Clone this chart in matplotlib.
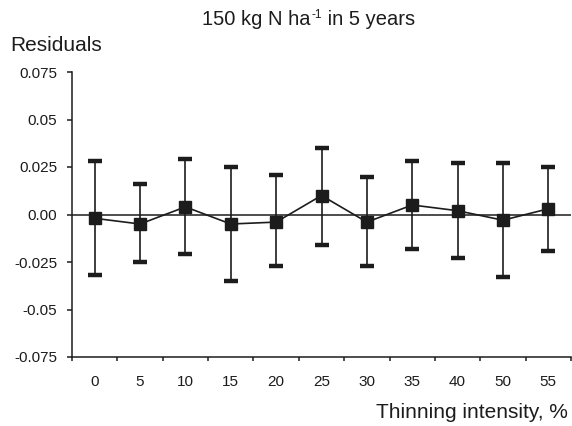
import numpy as np
import matplotlib
matplotlib.use("Agg")
import matplotlib.pyplot as plt

plt.rcParams['font.family'] = ['Liberation Sans', 'DejaVu Sans']

# Residuals per thinning intensity (mean with lower/upper error limits)
thinning = ['0', '5', '10', '15', '20', '25', '30', '35', '40', '50', '55']
resid = [-0.002, -0.005, 0.004, -0.005, -0.004, 0.010, -0.004, 0.005, 0.002, -0.003, 0.003]
upper = [0.028, 0.016, 0.029, 0.025, 0.021, 0.035, 0.020, 0.028, 0.027, 0.027, 0.025]
lower = [-0.032, -0.025, -0.021, -0.035, -0.027, -0.016, -0.027, -0.018, -0.023, -0.033, -0.019]
yticks = [0.075, 0.05, 0.025, 0.0, -0.025, -0.05, -0.075]
ytick_labels = ['0.075', '0.05', '0.025', '0.00', '-0.025', '-0.05', '-0.075']

ink = '#1c1c1c'

fig = plt.figure(figsize=(5.72, 4.26), dpi=100)
ax = fig.add_axes([72 / 572, 69 / 426, 499 / 572, 285 / 426])

x = np.arange(len(thinning))
resid = np.array(resid)
err = [resid - np.array(lower), np.array(upper) - resid]

ax.axhline(0, color=ink, lw=1.1, zorder=1)
ax.errorbar(x, resid, yerr=err, fmt='s-', color=ink, ecolor=ink,
            markersize=8, lw=1.2, elinewidth=1.2,
            capsize=5, capthick=3.2, zorder=3)

ax.set_xlim(-0.5, len(thinning) - 0.5)
ax.set_ylim(-0.075, 0.075)

for side in ('top', 'right'):
    ax.spines[side].set_visible(False)
for side in ('left', 'bottom'):
    ax.spines[side].set_color(ink)
    ax.spines[side].set_linewidth(1.1)

# category labels centred, tick marks on the boundaries
ax.set_xticks(x)
ax.set_xticklabels(thinning, fontsize=11)
ax.tick_params(axis='x', which='major', length=0, pad=13, colors=ink)
ax.set_xticks(np.arange(len(thinning) + 1) - 0.5, minor=True)
ax.tick_params(axis='x', which='minor', length=3, width=1.1, direction='out', color=ink)

ax.set_yticks(yticks)
ax.set_yticklabels(ytick_labels, fontsize=11)
ax.tick_params(axis='y', length=3.5, width=1.1, pad=7, colors=ink)

# title in three pieces so the superscript keeps a short hyphen
t1 = fig.text(202 / 572, 1 - 25 / 426, '150 kg N ha', ha='left', va='baseline',
              fontsize=14.5, color=ink)
t2 = ax.annotate('-1', xy=(1, 1), xycoords=t1, xytext=(0.5, 0.5),
                 textcoords='offset points', ha='left', va='top',
                 fontsize=8.5, color=ink)
ax.annotate(' in 5 years', xy=(1, 0), xycoords=(t2, t1), ha='left',
            va='bottom', fontsize=14.5, color=ink)

fig.text(10 / 572, 1 - 51 / 426, 'Residuals', ha='left', va='baseline',
         fontsize=15, color=ink)
fig.text(568 / 572, 1 - 418 / 426, 'Thinning intensity, %', ha='right',
         va='baseline', fontsize=15, color=ink)

fig.savefig('out.png', dpi=100, facecolor='white')
